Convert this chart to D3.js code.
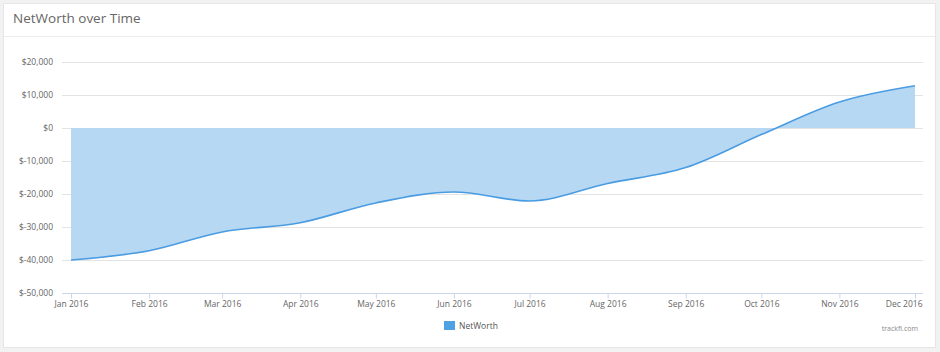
<!DOCTYPE html>
<html>
<head>
<meta charset="utf-8">
<script src="https://cdn.jsdelivr.net/npm/d3@7"></script>
<style>
  body { margin: 0; background: #f2f2f2; }
  svg { display: block; font-family: "Open Sans", sans-serif; }
</style>
</head>
<body>
<script>
// chart data
var months = ["2016-01-01", "2016-02-01", "2016-03-01", "2016-04-01", "2016-05-01", "2016-06-01",
              "2016-07-01", "2016-08-01", "2016-09-01", "2016-10-01", "2016-11-01", "2016-12-01"];
var netWorth = [-40000, -37200, -31500, -28700, -22700, -19400, -22100, -16800, -12000, -2000, 7900, 12800];
var yTicks = [-50000, -40000, -30000, -20000, -10000, 0, 10000, 20000];

var w = 940, h = 352;
var parse = d3.timeParse("%Y-%m-%d");
var data = months.map(function (m, i) { return { date: parse(m), value: netWorth[i] }; });

var svg = d3.select("body").append("svg").attr("width", w).attr("height", h);

// panel
svg.append("rect").attr("x", 3.5).attr("y", 3.5).attr("width", 932).attr("height", 344)
    .attr("fill", "white").attr("stroke", "#e6e6e6");
svg.append("line").attr("x1", 4).attr("x2", 935).attr("y1", 36.5).attr("y2", 36.5)
    .attr("stroke", "#ececec");
svg.append("text").attr("x", 13).attr("y", 23).text("NetWorth over Time")
    .attr("fill", "#666").attr("font-size", 13.5);

var left = 62, right = 923;
var x = d3.scaleTime().domain([data[0].date, data[data.length - 1].date]).range([71, 915]);
var y = d3.scaleLinear().domain([-50000, 20000]).range([293, 62]);

// gridlines
svg.selectAll(".grid").data(yTicks.slice(1)).enter().append("line")
    .attr("x1", left).attr("x2", right)
    .attr("y1", function (d) { return Math.round(y(d)) + 0.5; })
    .attr("y2", function (d) { return Math.round(y(d)) + 0.5; })
    .attr("stroke", "#e3e3e3");

// y labels
var fmt = d3.format(",");
svg.selectAll(".ylab").data(yTicks).enter().append("text")
    .attr("x", 53).attr("y", function (d) { return y(d) + 3; })
    .attr("text-anchor", "end").attr("font-size", 8.5).attr("fill", "#666")
    .text(function (d) { return d < 0 ? "$-" + fmt(-d) : "$" + fmt(d); });

// area + line
var area = d3.area().x(function (d) { return x(d.date); }).y0(y(0)).y1(function (d) { return y(d.value); })
    .curve(d3.curveMonotoneX);
var line = d3.line().x(function (d) { return x(d.date); }).y(function (d) { return y(d.value); })
    .curve(d3.curveMonotoneX);

svg.append("path").datum(data).attr("d", area).attr("fill", "#b7d8f3");
svg.append("path").datum(data).attr("d", line).attr("fill", "none")
    .attr("stroke", "#4a9ce2").attr("stroke-width", 1.6);

// x axis
var xAxis = d3.axisBottom(x).tickValues(data.map(function (d) { return d.date; }))
    .tickFormat(d3.timeFormat("%b %Y")).tickSize(5).tickPadding(2);
var gx = svg.append("g").attr("transform", "translate(0," + 293.5 + ")").call(xAxis);
gx.select(".domain").remove();
gx.append("line").attr("x1", left).attr("x2", right).attr("stroke", "#ccd6eb");
gx.selectAll(".tick line").attr("stroke", "#ccd6eb");
gx.selectAll(".tick text").attr("fill", "#666").attr("font-size", 8.5)
    .attr("font-family", "Open Sans, sans-serif");
// last label kept inside the plot edge
gx.selectAll(".tick text").filter(function (d, i) { return i === months.length - 1; })
    .attr("text-anchor", "end").attr("x", 7);

// legend
svg.append("rect").attr("x", 444).attr("y", 321).attr("width", 11).attr("height", 9).attr("fill", "#4ea1e3");
svg.append("text").attr("x", 459).attr("y", 329).text("NetWorth")
    .attr("font-size", 8.5).attr("fill", "#555");
svg.append("text").attr("x", 918).attr("y", 331).attr("text-anchor", "end").text("trackfi.com")
    .attr("font-size", 7).attr("fill", "#888");
</script>
</body>
</html>
